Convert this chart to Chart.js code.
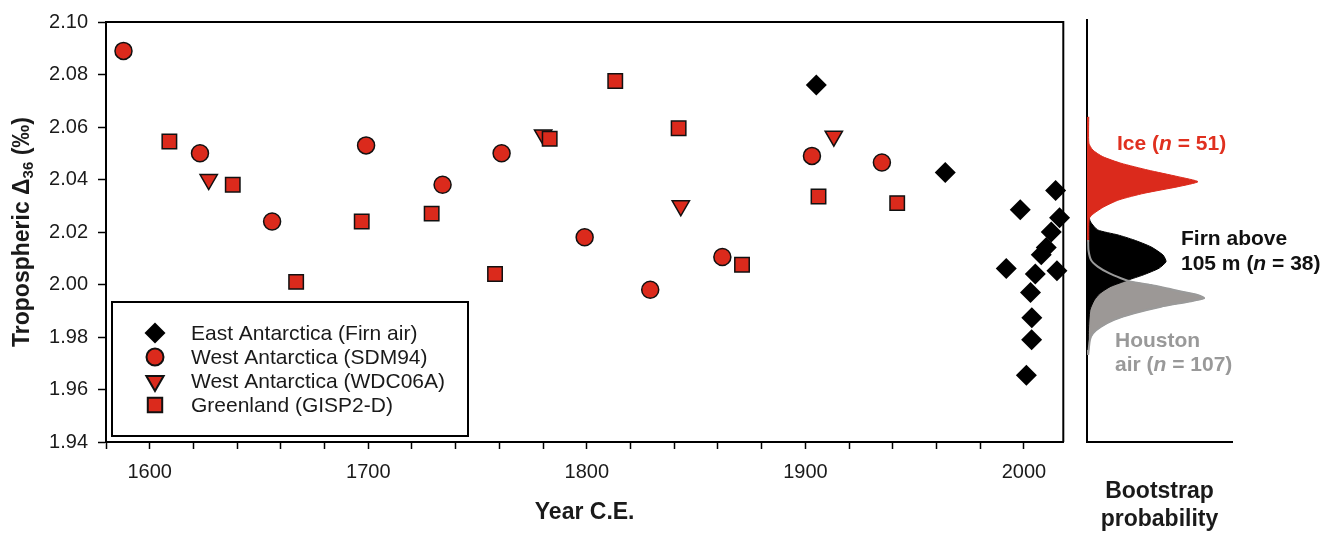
<!DOCTYPE html>
<html>
<head>
<meta charset="utf-8">
<script src="https://cdn.jsdelivr.net/npm/chart.js@4/dist/chart.umd.min.js"></script>
<style>
  html, body { margin: 0; padding: 0; background: #fff; }
  #wrap { position: relative; width: 1327px; height: 533px; }
  canvas { position: absolute; top: 0; }
  #mainChart { left: 0; }
  #bootChart { left: 1075px; }
</style>
</head>
<body>
<div id="wrap">
  <canvas id="mainChart" width="1075" height="533"></canvas>
  <canvas id="bootChart" width="252" height="533"></canvas>
</div>
<script>
// ---- data ----
const firnYears = [1905, 1964, 2014.5, 1998.3, 2016.3, 2012.5, 2010.2, 2007.9, 1991.9, 2005.2, 2015.1, 2003, 2003.6, 2003.5, 2001.1];
const firnD36 = [2.076, 2.0427, 2.0358, 2.0285, 2.0254, 2.020, 2.0141, 2.0113, 2.0061, 2.004, 2.0052, 1.997, 1.9873, 1.979, 1.9654];

const sdmYears = [1588, 1623, 1656, 1699, 1734, 1761, 1799, 1829, 1862, 1903, 1935];
const sdmD36 = [2.089, 2.050, 2.024, 2.053, 2.038, 2.050, 2.018, 1.998, 2.0105, 2.049, 2.0465];

const wdcYears = [1627, 1780, 1843, 1913];
const wdcD36 = [2.040, 2.057, 2.030, 2.0565];

const gispYears = [1609, 1638, 1667, 1697, 1729, 1758, 1783, 1813, 1842, 1871, 1906, 1942];
const gispD36 = [2.0545, 2.038, 2.001, 2.024, 2.027, 2.004, 2.0555, 2.0775, 2.0595, 2.0075, 2.0335, 2.031];

const seriesNames = ['East Antarctica (Firn air)', 'West Antarctica (SDM94)', 'West Antarctica (WDC06A)', 'Greenland (GISP2-D)'];

const yTicks = [1.94, 1.96, 1.98, 2.00, 2.02, 2.04, 2.06, 2.08, 2.10];
const xMajorTicks = [1600, 1700, 1800, 1900, 2000];

// bootstrap distributions (Δ36 level vs relative probability)
const iceLevels = [2.0633, 2.0533, 2.0507, 2.0482, 2.0457, 2.0431, 2.0406, 2.0387, 2.0368, 2.0343, 2.0318, 2.0292, 2.0267, 2.0248, 2.0159];
const iceProb = [0.012, 0.013, 0.04, 0.108, 0.234, 0.42, 0.628, 0.765, 0.628, 0.393, 0.22, 0.117, 0.048, 0.016, 0.012];

const firnLevels = [2.0261, 2.0234, 2.0204, 2.0185, 2.0166, 2.014, 2.0109, 2.0084, 2.0059, 2.0033, 2.0014, 1.9989, 1.9964, 1.9938, 1.99, 1.9825, 1.9749];
const firnProb = [0.01, 0.025, 0.074, 0.214, 0.324, 0.441, 0.524, 0.545, 0.497, 0.386, 0.283, 0.16, 0.09, 0.05, 0.02, 0.01, 0.008];

const houstonLevels = [2.0166, 2.0128, 2.009, 2.0065, 2.004, 2.0021, 2.0008, 1.9995, 1.9976, 1.9957, 1.9945, 1.9932, 1.9913, 1.9888, 1.9863, 1.9837, 1.9812, 1.9787, 1.973];
const houstonProb = [0.008, 0.01, 0.028, 0.074, 0.152, 0.234, 0.303, 0.441, 0.6, 0.766, 0.807, 0.697, 0.51, 0.324, 0.186, 0.097, 0.041, 0.02, 0.008];

const RED = '#db2a1c';
const FONT = "'Liberation Sans', Arial, sans-serif";
Chart.defaults.font.family = FONT;
Chart.defaults.color = '#1a1a1a';

const pts = (xs, ys) => xs.map((x, i) => ({ x, y: ys[i] }));

// draw a line of text made of several styled pieces
function drawRich(ctx, parts, x, y) {
  parts.forEach(p => {
    ctx.font = p.font;
    ctx.fillText(p.text, x, y);
    x += ctx.measureText(p.text).width;
  });
}

// ---- main panel ----
const frameAndLabels = {
  id: 'frameAndLabels',
  afterDraw(chart) {
    const { ctx, chartArea: a } = chart;
    ctx.save();
    // closing box (top + right)
    ctx.strokeStyle = '#000';
    ctx.lineWidth = 2;
    ctx.beginPath();
    ctx.moveTo(a.left, a.top);
    ctx.lineTo(a.right, a.top);
    ctx.lineTo(a.right, a.bottom);
    ctx.stroke();

    // y axis title with subscript
    ctx.translate(23, (a.top + a.bottom) / 2);
    ctx.rotate(-Math.PI / 2);
    ctx.fillStyle = '#1a1a1a';
    ctx.textBaseline = 'middle';
    const big = `bold 23px ${FONT}`, small = `bold 15px ${FONT}`;
    ctx.font = big;
    const w1 = ctx.measureText('Tropospheric \u0394').width;
    const w3 = ctx.measureText(' (\u2030)').width;
    ctx.font = small;
    const w2 = ctx.measureText('36').width;
    let x = -(w1 + w2 + w3) / 2;
    ctx.font = big; ctx.fillText('Tropospheric \u0394', x, 0); x += w1;
    ctx.font = small; ctx.fillText('36', x, 6); x += w2;
    ctx.font = big; ctx.fillText(' (\u2030)', x, 0);
    ctx.restore();

    // legend box
    ctx.save();
    ctx.fillStyle = '#fff';
    ctx.fillRect(111, 301, 358, 135);
    ctx.strokeStyle = '#000';
    ctx.lineWidth = 2;
    ctx.strokeRect(112, 302, 356, 134);
    chart.data.datasets.forEach((ds, i) => {
      const y = 333 + i * 24;
      ctx.fillStyle = ds.backgroundColor;
      ctx.strokeStyle = ds.borderColor;
      Chart.helpers.drawPoint(ctx, {
        pointStyle: ds.pointStyle,
        rotation: ds.pointRotation || 0,
        radius: ds.pointRadius,
        borderWidth: ds.borderWidth
      }, 155, y);
      ctx.fillStyle = '#1a1a1a';
      ctx.font = `21px ${FONT}`;
      ctx.textBaseline = 'middle';
      ctx.fillText(ds.label, 191, y + 1);
    });
    ctx.restore();
  }
};

new Chart(document.getElementById('mainChart'), {
  type: 'scatter',
  data: {
    datasets: [
      {
        label: seriesNames[0],
        data: pts(firnYears, firnD36),
        order: 0,
        pointStyle: 'rectRot',
        pointRadius: 10.5,
        backgroundColor: '#000',
        borderColor: '#000',
        borderWidth: 0
      },
      {
        label: seriesNames[1],
        data: pts(sdmYears, sdmD36),
        order: 1,
        pointStyle: 'circle',
        pointRadius: 8.5,
        backgroundColor: RED,
        borderColor: '#111',
        borderWidth: 1.5
      },
      {
        label: seriesNames[2],
        data: pts(wdcYears, wdcD36),
        order: 3,
        pointStyle: 'triangle',
        pointRotation: 180,
        pointRadius: 10,
        backgroundColor: RED,
        borderColor: '#111',
        borderWidth: 1.5
      },
      {
        label: seriesNames[3],
        data: pts(gispYears, gispD36),
        order: 2,
        pointStyle: 'rect',
        pointRadius: 10.2,
        backgroundColor: RED,
        borderColor: '#111',
        borderWidth: 1.5
      }
    ]
  },
  options: {
    responsive: false,
    animation: false,
    clip: false,
    layout: { padding: { left: 0, top: 20, right: 9, bottom: 0 } },
    plugins: {
      legend: { display: false },
      tooltip: { enabled: false }
    },
    scales: {
      x: {
        type: 'linear',
        min: 1580,
        max: 2018,
        afterFit: s => { s.height = 91; },
        ticks: {
          stepSize: 20,
          includeBounds: false,
          autoSkip: false,
          maxRotation: 0,
          padding: 11,
          font: { size: 20 },
          callback: v => (xMajorTicks.includes(v) ? String(v) : '')
        },
        grid: { drawOnChartArea: false, drawTicks: true, tickLength: 7, tickColor: '#000', tickWidth: 1.5 },
        border: { display: true, color: '#000', width: 2 },
        title: {
          display: true,
          text: 'Year C.E.',
          font: { size: 23, weight: 'bold' },
          color: '#1a1a1a',
          padding: { top: 0, bottom: 7 }
        }
      },
      y: {
        min: 1.94,
        max: 2.10,
        afterFit: s => { s.width = 106; },
        afterBuildTicks: s => { s.ticks = yTicks.map(v => ({ value: v })); },
        ticks: {
          padding: 10,
          font: { size: 20 },
          callback: v => v.toFixed(2)
        },
        grid: { drawOnChartArea: false, drawTicks: true, tickLength: 8, tickColor: '#000', tickWidth: 1.5 },
        border: { display: true, color: '#000', width: 2 }
      }
    }
  },
  plugins: [frameAndLabels]
});

// ---- bootstrap panel ----
const bootLabels = {
  id: 'bootLabels',
  afterDraw(chart) {
    const { ctx } = chart;
    const b = `bold 21px ${FONT}`, bi = `italic bold 21px ${FONT}`;
    ctx.save();
    ctx.textBaseline = 'alphabetic';
    ctx.fillStyle = '#e0301f';
    drawRich(ctx, [{ text: 'Ice (', font: b }, { text: 'n', font: bi }, { text: ' = 51)', font: b }], 42, 150);
    ctx.fillStyle = '#111';
    drawRich(ctx, [{ text: 'Firn above', font: b }], 106, 245);
    drawRich(ctx, [{ text: '105 m (', font: b }, { text: 'n', font: bi }, { text: ' = 38)', font: b }], 106, 270);
    ctx.fillStyle = '#999';
    drawRich(ctx, [{ text: 'Houston', font: b }], 40, 347);
    drawRich(ctx, [{ text: 'air (', font: b }, { text: 'n', font: bi }, { text: ' = 107)', font: b }], 40, 371);
    ctx.restore();
  }
};

const curve = {
  pointRadius: 0,
  tension: 0.2
};

new Chart(document.getElementById('bootChart'), {
  type: 'line',
  data: {
    datasets: [
      {
        ...curve,
        label: 'Houston air outline',
        data: pts(houstonProb, houstonLevels),
        borderColor: '#9a9a9a',
        borderWidth: 2,
        fill: false
      },
      {
        ...curve,
        label: 'Ice',
        data: pts(iceProb, iceLevels),
        borderColor: RED,
        backgroundColor: RED,
        borderWidth: 1,
        fill: 'origin'
      },
      {
        ...curve,
        label: 'Firn above 105 m',
        data: pts(firnProb, firnLevels),
        borderColor: '#000',
        backgroundColor: '#000',
        borderWidth: 1,
        fill: 'origin'
      },
      {
        ...curve,
        label: 'Houston air',
        data: pts(houstonProb, houstonLevels),
        borderColor: '#9c9896',
        backgroundColor: '#9c9896',
        borderWidth: 1,
        fill: 'origin'
      }
    ]
  },
  options: {
    responsive: false,
    animation: false,
    indexAxis: 'y',
    clip: false,
    layout: { padding: { left: 12, top: 20, right: 95, bottom: 0 } },
    plugins: {
      legend: { display: false },
      tooltip: { enabled: false }
    },
    scales: {
      x: {
        type: 'linear',
        min: 0,
        max: 1,
        afterFit: s => { s.height = 91; },
        ticks: { display: false },
        grid: { display: false, drawTicks: false },
        border: { display: true, color: '#000', width: 2 },
        title: {
          display: true,
          text: ['Bootstrap', 'probability'],
          font: { size: 23, weight: 'bold' },
          color: '#1a1a1a',
          padding: 0
        }
      },
      y: {
        type: 'linear',
        min: 1.94,
        max: 2.10,
        afterFit: s => { s.width = 0; },
        ticks: { display: false },
        grid: { display: false, drawTicks: false },
        border: { display: true, color: '#000', width: 2 }
      }
    }
  },
  plugins: [bootLabels]
});
</script>
</body>
</html>
